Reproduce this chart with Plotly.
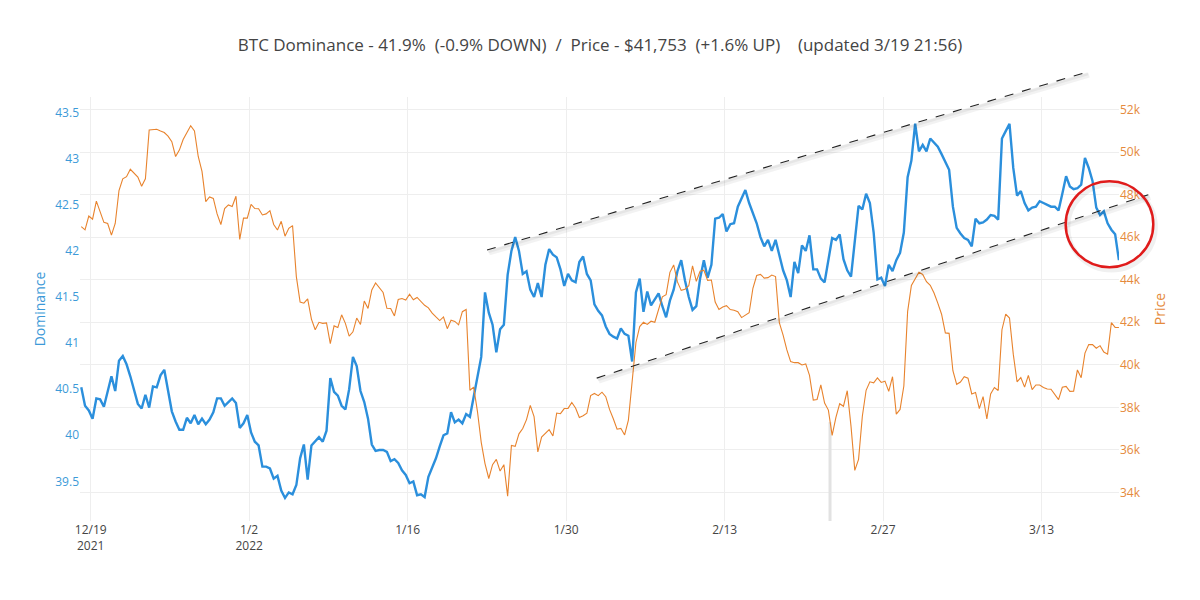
import pandas as pd
import plotly.graph_objects as go

# ---------------- data ----------------
start_time = "2021-12-18 04:00"
step = "8h"

dominance = [
    40.52, 40.32, 40.27, 40.18, 40.40, 40.39, 40.31, 40.47, 40.64, 40.48,
    40.81, 40.86, 40.77, 40.64, 40.48, 40.34, 40.29, 40.44, 40.30, 40.53,
    40.52, 40.65, 40.71, 40.50, 40.26, 40.15, 40.06, 40.06, 40.19, 40.13,
    40.22, 40.12, 40.18, 40.12, 40.17, 40.25, 40.40, 40.40, 40.32, 40.36,
    40.40, 40.35, 40.08, 40.13, 40.22, 40.03, 39.93, 39.89, 39.66, 39.66,
    39.64, 39.53, 39.56, 39.40, 39.32, 39.38, 39.36, 39.46, 39.75, 39.90,
    39.52, 39.89, 39.94, 39.98, 39.93, 40.05, 40.62, 40.47, 40.43, 40.32,
    40.28, 40.50, 40.85, 40.75, 40.48, 40.36, 40.18, 39.90, 39.83, 39.84,
    39.84, 39.82, 39.72, 39.74, 39.70, 39.62, 39.57, 39.48, 39.50, 39.35,
    39.36, 39.33, 39.55, 39.65, 39.75, 39.88, 40.00, 40.02, 40.25, 40.14,
    40.17, 40.13, 40.23, 40.20, 40.43, 40.64, 40.85, 41.55, 41.33, 41.20,
    40.90, 41.15, 41.20, 41.74, 42.00, 42.15, 42.00, 41.75, 41.78, 41.58,
    41.50, 41.65, 41.50, 41.85, 42.02, 41.96, 41.93, 41.80, 41.62, 41.75,
    41.68, 41.66, 41.88, 41.94, 41.75, 41.68, 41.42, 41.35, 41.30, 41.18,
    41.10, 41.07, 41.05, 41.16, 41.10, 41.08, 40.80, 41.55, 41.70, 41.34,
    41.56, 41.41, 41.48, 41.54, 41.40, 41.28, 41.46, 41.58, 41.78, 41.90,
    41.68, 41.50, 41.36, 41.40, 41.70, 41.90, 41.71, 41.85, 42.35, 42.36,
    42.40, 42.21, 42.29, 42.30, 42.48, 42.58, 42.66, 42.52, 42.42, 42.30,
    42.15, 42.05, 42.12, 42.00, 42.12, 41.95, 41.79, 41.68, 41.50, 41.88,
    41.76, 42.06, 42.00, 42.17, 41.80, 41.80, 41.70, 41.66, 41.90, 42.14,
    42.12, 42.18, 41.91, 41.79, 41.72, 42.10, 42.49, 42.45, 42.62, 42.52,
    42.20, 41.69, 41.71, 41.62, 41.85, 41.78, 41.90, 41.98, 42.20, 42.80,
    42.98, 43.38, 43.08, 43.15, 43.08, 43.22, 43.17, 43.13, 43.05, 42.97,
    42.88, 42.48, 42.25, 42.19, 42.14, 42.12, 42.05, 42.35, 42.30, 42.31,
    42.34, 42.39, 42.38, 42.34, 43.22, 43.30, 43.38, 42.90, 42.60, 42.65,
    42.52, 42.44, 42.47, 42.48, 42.54, 42.52, 42.50, 42.48, 42.48, 42.44,
    42.62, 42.81, 42.70, 42.67, 42.68, 42.72, 43.01, 42.90, 42.76, 42.47,
    42.39, 42.43, 42.30, 42.23, 42.18, 41.90,
]

price = [
    46500, 46350, 47000, 46850, 47700, 47220, 46700, 46650, 46100, 46650,
    48200, 48750, 48850, 49200, 49000, 48830, 48400, 48750, 51050, 51050,
    51080, 51000, 50930, 50760, 50500, 49800, 50100, 50600, 50900, 51250,
    51000, 49800, 49100, 47680, 47900, 47830, 47100, 46600, 47350, 47520,
    47450, 47930, 45900, 46900, 46900, 47550, 47350, 47340, 47050, 47100,
    47250, 46600, 46340, 46750, 46050, 46420, 46550, 44150, 42950, 42900,
    43100, 42150, 41650, 42000, 41950, 41970, 41000, 41830, 41750, 42350,
    41950, 41350, 41550, 42200, 41900, 43000, 42650, 43520, 43850, 43610,
    43400, 42660, 42650, 42300, 43070, 43120, 43050, 43320, 43060, 43170,
    43000, 42800, 42680, 42430, 42250, 42080, 42250, 41700, 42100, 42040,
    41880, 42500, 42600, 38800, 38950, 37800, 36350, 35350, 34650, 35300,
    35550, 35000, 35300, 33820, 36200, 36160, 36750, 37000, 37420, 38090,
    37560, 35900, 36600, 36800, 36950, 36650, 37730, 37700, 37940, 37950,
    38230, 37970, 37520, 37600, 37720, 38550, 38650, 38550, 38710, 38500,
    37900, 37460, 36970, 37010, 36700, 37400, 39100, 41050, 41800, 42000,
    41900, 42050, 42000, 42580, 43200, 43300, 44350, 44700, 43900, 43500,
    43550, 43720, 44650, 43930, 44400, 44450, 43970, 43990, 42950, 42600,
    42720, 42780, 42600, 42570, 42500, 42220, 42330, 42450, 43600, 44200,
    44250, 44080, 44100, 44220, 44150, 41980, 41400, 40700, 40150, 40100,
    40100, 39990, 40040, 39500, 38340, 38370, 39050, 38200, 37870, 36680,
    37530, 38170, 38050, 38780, 37100, 35030, 35550, 37580, 38800, 39200,
    39150, 39380, 39170, 39230, 38750, 39440, 37680, 37900, 39000, 42500,
    43730, 44040, 44350, 44250, 43910, 43740, 43380, 42900, 42380, 41500,
    41480, 39720, 39080, 39190, 39440, 39370, 38630, 38700, 37940, 38500,
    37450, 38630, 38930, 38790, 41650, 42380, 42200, 40500, 39200, 39400,
    38950, 39500, 38830, 39050, 39050, 38930, 38860, 38850, 38600, 38360,
    38940, 38980, 38750, 38760, 39760, 39390, 40550, 40950, 40950, 40780,
    40900, 40600, 40500, 41980, 41760, 41753,
]

dates = pd.date_range(start_time, periods=len(dominance), freq=step)

x_range = ["2021-12-18 01:20", "2022-03-19 20:10"]
dom_range = [39.07, 43.67]
price_range = [32650, 52600]

x_tickvals = ["2021-12-19", "2022-01-02", "2022-01-16", "2022-01-30",
              "2022-02-13", "2022-02-27", "2022-03-13"]
x_ticktext = ["12/19<br>2021", "1/2<br>2022", "1/16", "1/30",
              "2/13", "2/27", "3/13"]

# hand-drawn channel (in date / dominance units)
upper_channel = [("2022-01-23 00:15", 42.01), ("2022-03-17 00:15", 43.94)]
lower_channel = [("2022-02-01 16:50", 40.62), ("2022-03-22 10:20", 42.61)]
circle_center = ("2022-03-19 00:00", 42.29)
circle_radius_days = 3.87
circle_radius_dom = 0.466

# hover spike position
spike_time = "2022-02-22 07:30"
spike_price = 37300

title_text = ("BTC Dominance - 41.9% \u00a0(-0.9% DOWN) \u00a0/ \u00a0Price - $41,753 "
              "\u00a0(+1.6% UP) \u00a0\u00a0 (updated 3/19 21:56)")

BLUE = "#2b8fdc"
BLUE_TXT = "#3d9ad8"
ORANGE = "#e8832d"
ORANGE_TXT = "#e58a3c"
FONT = "Open Sans"

# ---------------- helpers to map data -> paper ----------------
t0 = pd.Timestamp(x_range[0])
t1 = pd.Timestamp(x_range[1])


def px(t):
    return (pd.Timestamp(t) - t0) / (t1 - t0)


def py(v):
    return (v - dom_range[0]) / (dom_range[1] - dom_range[0])


fig = go.Figure()

fig.add_trace(go.Scatter(
    x=[pd.Timestamp(spike_time)] * 2, y=[spike_price, price_range[0]],
    yaxis="y2", mode="lines", line=dict(color="#e2e2e2", width=3),
    hoverinfo="skip", showlegend=False))

fig.add_trace(go.Scatter(
    x=dates, y=price, name="Price", yaxis="y2", mode="lines",
    line=dict(color=ORANGE, width=1.1), showlegend=False))

fig.add_trace(go.Scatter(
    x=dates, y=dominance, name="Dominance", yaxis="y", mode="lines",
    line=dict(color=BLUE, width=2.4), showlegend=False))

shapes = []
for seg in (upper_channel, lower_channel):
    (ta, va), (tb, vb) = seg
    xa, xb, ya, yb = px(ta), px(tb), py(va), py(vb)
    shapes.append(dict(type="line", xref="paper", yref="paper",
                       x0=xa + 0.002, x1=xb + 0.002, y0=ya - 0.007, y1=yb - 0.007,
                       line=dict(color="rgba(0,0,0,0.05)", width=5)))
    shapes.append(dict(type="line", xref="paper", yref="paper",
                       x0=xa + 0.001, x1=xb + 0.001, y0=ya - 0.004, y1=yb - 0.004,
                       line=dict(color="rgba(0,0,0,0.05)", width=3)))
    shapes.append(dict(type="line", xref="paper", yref="paper",
                       x0=xa, x1=xb, y0=ya, y1=yb,
                       line=dict(color="#222222", width=1.1, dash="dash")))

ct, cv = circle_center
cx = px(ct)
dx = px(pd.Timestamp(ct) + pd.Timedelta(days=circle_radius_days)) - cx
cy = py(cv)
dy = circle_radius_dom / (dom_range[1] - dom_range[0])
shapes.append(dict(type="circle", xref="paper", yref="paper",
                   x0=cx - dx + 0.002, x1=cx + dx + 0.002,
                   y0=cy - dy - 0.007, y1=cy + dy - 0.007,
                   line=dict(color="rgba(0,0,0,0.06)", width=5)))
shapes.append(dict(type="circle", xref="paper", yref="paper",
                   x0=cx - dx, x1=cx + dx, y0=cy - dy, y1=cy + dy,
                   line=dict(color="#e01b1b", width=2.5)))

fig.update_layout(
    width=1200, height=600,
    margin=dict(l=80, r=81, t=97, b=79, autoexpand=False),
    paper_bgcolor="white", plot_bgcolor="white",
    font=dict(family=FONT, size=12, color="#444444"),
    title=dict(text=title_text, x=0.5, xanchor="center", y=1 - 45 / 600,
               yanchor="middle", font=dict(family=FONT, size=17, color="#444444")),
    showlegend=False,
    hovermode=False,
    xaxis=dict(type="date", range=x_range, tickvals=x_tickvals, ticktext=x_ticktext,
               showgrid=True, gridcolor="#eeeeee", zeroline=False, showline=False,
               automargin=False,
               ticks="", tickfont=dict(size=12, color="#444444")),
    yaxis=dict(range=dom_range, tick0=39.5, dtick=0.5, showgrid=False, zeroline=False,
               showline=False, ticks="", automargin=False,
               tickfont=dict(size=12, color=BLUE_TXT),
               title=dict(text="Dominance", standoff=6,
                          font=dict(size=14, color=BLUE_TXT))),
    yaxis2=dict(range=price_range, tick0=34000, dtick=2000, overlaying="y", side="right",
                showgrid=True, gridcolor="#eeeeee", zeroline=False, showline=False,
                ticks="", automargin=False,
                tickfont=dict(size=12, color=ORANGE_TXT),
                title=dict(text="Price", font=dict(size=14, color=ORANGE_TXT))),
    shapes=shapes,
)

fig.write_html(
    "out.html",
    config={"displayModeBar": False},
    post_script="document.body.style.margin='0px';document.body.style.padding='0px';",
)
